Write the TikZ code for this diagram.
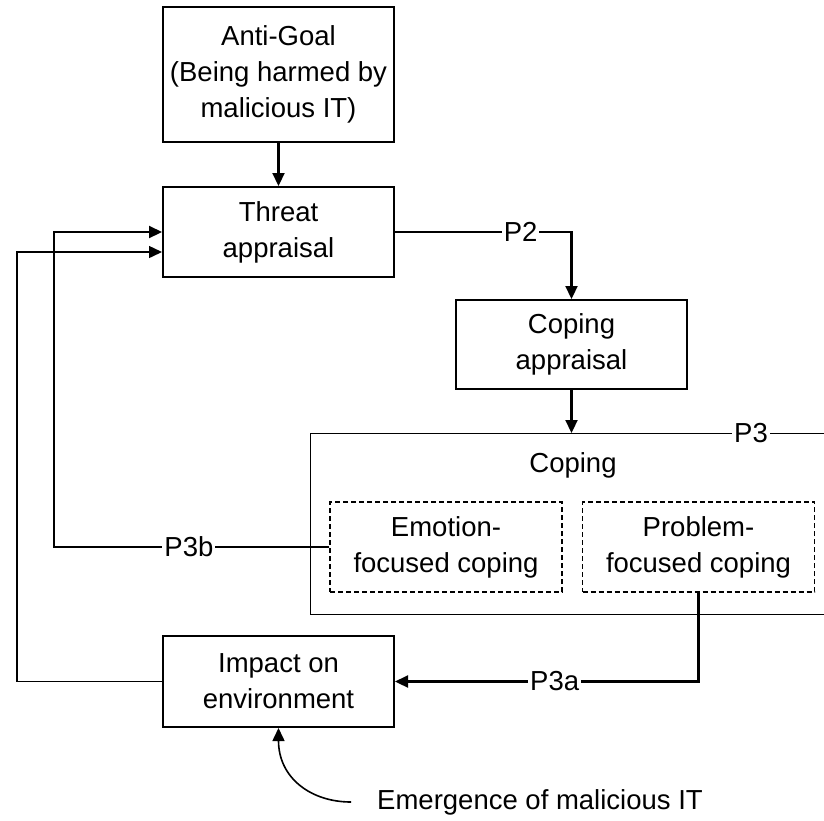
\documentclass[tikz,border=0pt]{standalone}
\usepackage{fontspec}
\setmainfont{Liberation Sans}
\usetikzlibrary{arrows.meta}

\tikzset{
  block/.style={draw, line width=2pt, align=center, inner sep=0pt, minimum width=231pt},
  dashbox/.style={draw, dash pattern=on 5pt off 3pt, line width=1.4pt, align=center, inner sep=0pt, minimum width=232pt, minimum height=90pt},
  link/.style={line width=2.2pt, -{Triangle[length=13pt,width=12pt]}},
  thinlink/.style={line width=1.5pt, -{Triangle[length=13pt,width=12pt]}},
  plabel/.style={fill=white, inner sep=2pt}
}

\begin{document}
\begin{tikzpicture}[x=1pt, y=-1pt, font=\fontsize{27.5}{36}\selectfont]
\useasboundingbox (0,0) rectangle (824,820);

%% boxes
\node[block, minimum height=135pt] (antigoal) at (278.5,74.5) {Anti-Goal\\(Being harmed by\\malicious IT)};
\node[block, minimum height=90pt] (threat) at (278.5,232) {Threat\\appraisal};
\node[block, minimum height=89pt] (copapp) at (571.5,344.5) {Coping\\appraisal};
\node[draw, line width=1.4pt, minimum width=560pt, minimum height=181pt, anchor=north west] (coping) at (310,433) {};
\node (copingtxt) at (573,465) {Coping};
\node[dashbox] (emotion) at (446,547) {Emotion-\\focused coping};
\node[dashbox] (problem) at (698.5,547) {Problem-\\focused coping};
\node[block, minimum height=91pt] (impact) at (278.5,681.5) {Impact on\\environment};
\node[inner xsep=26pt] (emerge) at (540,802) {Emergence of malicious IT};

%% helper points
\coordinate (loopin) at (54,0);
\coordinate (loopout) at (17,0);
\coordinate (thrlow) at ([yshift=-20pt]threat.west);

%%% edges
\draw[link] (antigoal) -- (threat);
\draw[link] (threat.east) -| node[plabel, pos=0.356] {P2} (copapp.north);
\draw[link] (copapp) -- (copapp.south |- coping.north);
\node[plabel] (p3) at (751,433) {P3};
\draw[link] (emotion.west) -| node[plabel, pos=0.255] {P3b} (loopin |- threat.west) -- (threat.west);
\draw[link] (problem.south) |- node[plabel, pos=0.737] {P3a} (impact.east);
\draw[thinlink] (impact.west) -| (loopout |- thrlow) -- (thrlow);
\draw[link, line width=1.6pt] (emerge.west) .. controls +(-40,0) and +(0,50) .. (impact.south);

\end{tikzpicture}
\end{document}
